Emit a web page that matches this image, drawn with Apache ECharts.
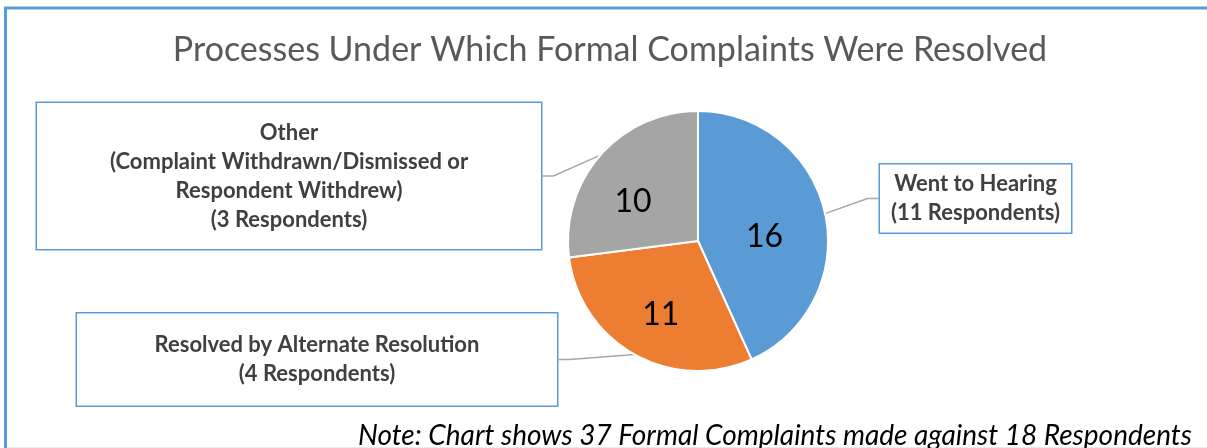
<!DOCTYPE html>
<html>
<head>
<meta charset="utf-8">
<script src="https://cdn.jsdelivr.net/npm/echarts@6/dist/echarts.min.js"></script>
<style>
html,body{margin:0;padding:0;background:#fff;}
#main{width:1207px;height:448px;}
</style>
</head>
<body>
<div id="main"></div>
<script>
// data
var categories = ['Went to Hearing', 'Resolved by Alternate Resolution', 'Other'];
var complaints = [16, 11, 10];
var respondents = [11, 4, 3];
var subNotes = ['', '', '(Complaint Withdrawn/Dismissed or\nRespondent Withdrew)'];
var titleText = 'Processes Under Which Formal Complaints Were Resolved';
var noteText = 'Note: Chart shows 37 Formal Complaints made against 18 Respondents';

// callout boxes (layout only)
var boxPos = [[975.5, 198.5], [317, 359.5], [289, 176]];
var boxWidth = [191, 480, 504];
var boxPadV = [5, 17, 15];
var innerShift = [[0, 10], [-4, 14], [-14, 6]];

var colors = ['#5B9BD5', '#ED7D31', '#A5A5A5'];
var font = 'Lato';

var boxData = [];
var valueData = [];
for (var i = 0; i < categories.length; i++) {
    var txt = categories[i] + (subNotes[i] ? '\n' + subNotes[i] : '') + '\n(' + respondents[i] + ' Respondents)';
    boxData.push({
        name: categories[i],
        value: complaints[i],
        label: {
            formatter: txt,
            width: boxWidth[i],
            padding: [boxPadV[i], 0]
        }
    });
    valueData.push({ name: categories[i], value: complaints[i] });
}

var myChart = echarts.init(document.getElementById('main'));
var option = {
    animation: false,
    color: colors,
    textStyle: { fontFamily: font },
    title: [{
        text: titleText,
        left: 605,
        top: 28,
        textAlign: 'center',
        textStyle: { fontSize: 34, fontWeight: 'normal', color: '#595959', fontFamily: font }
    }, {
        text: noteText,
        right: 10,
        top: 417,
        textStyle: { fontSize: 28, fontWeight: 'normal', fontStyle: 'italic', color: '#000', fontFamily: font }
    }],
    graphic: [{
        type: 'polyline',
        shape: { points: [[5.5, 448], [5.5, 8], [1207, 8]] },
        style: { stroke: '#5B9BD5', lineWidth: 3, fill: null },
        z: 100
    }, {
        type: 'line',
        shape: { x1: 7, y1: 447.5, x2: 1207, y2: 447.5 },
        style: { stroke: '#E6EAF3', lineWidth: 1 }
    }],
    series: [{
        name: 'boxes',
        type: 'pie',
        center: [698, 241],
        radius: 130,
        startAngle: 90,
        clockwise: true,
        avoidLabelOverlap: false,
        silent: true,
        itemStyle: { borderColor: '#fff', borderWidth: 2 },
        label: {
            show: true,
            position: 'outside',
            fontFamily: font,
            fontSize: 22,
            fontWeight: 'bold',
            color: '#404040',
            lineHeight: 29,
            align: 'center',
            overflow: 'none',
            backgroundColor: '#fff',
            borderColor: '#5B9BD5',
            borderWidth: 1.5
        },
        labelLine: {
            show: true,
            length: 10,
            length2: 11,
            lineStyle: { color: '#A6A6A6', width: 1.5 }
        },
        labelLayout: function (p) {
            var i = p.dataIndex;
            return { x: boxPos[i][0], y: boxPos[i][1], align: 'center', verticalAlign: 'middle' };
        },
        data: boxData
    }, {
        name: 'values',
        type: 'pie',
        center: [698, 241],
        radius: 130,
        startAngle: 90,
        clockwise: true,
        silent: true,
        itemStyle: { borderColor: '#fff', borderWidth: 2 },
        label: {
            show: true,
            position: 'inside',
            formatter: '{c}',
            fontFamily: font,
            fontSize: 32,
            color: '#000'
        },
        labelLine: { show: false },
        labelLayout: function (p) {
            var i = p.dataIndex;
            return { dx: innerShift[i][0], dy: innerShift[i][1] };
        },
        data: valueData
    }]
};
myChart.setOption(option);
</script>
</body>
</html>
